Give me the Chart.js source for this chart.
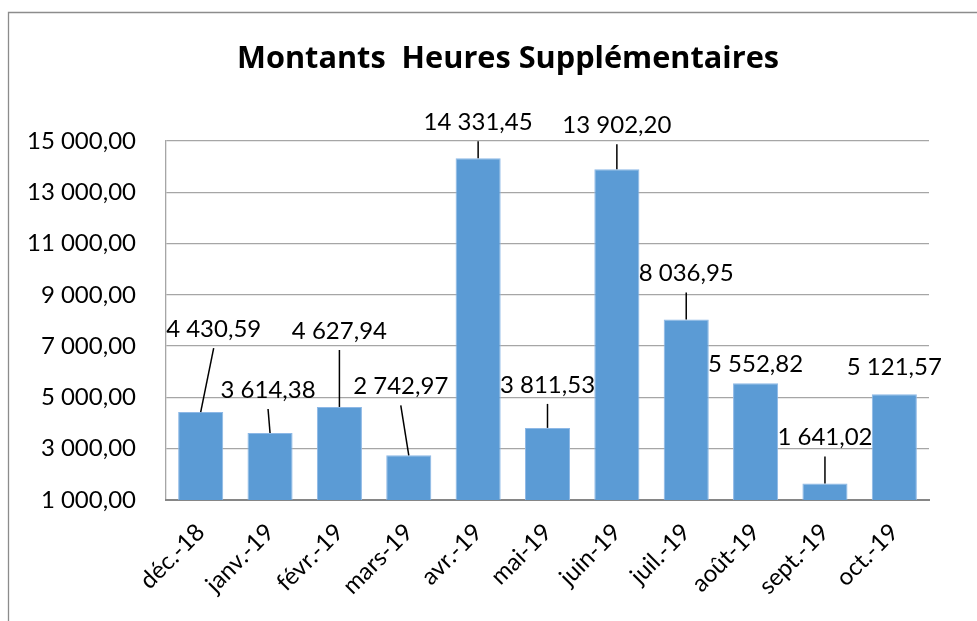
<!DOCTYPE html>
<html>
<head>
<meta charset="utf-8">
<script src="https://cdn.jsdelivr.net/npm/chart.js@4/dist/chart.umd.min.js"></script>
<style>
  body { margin: 0; background: #fff; }
</style>
</head>
<body>
<canvas id="otChart" width="977" height="621"></canvas>
<script>
let months = ['déc.-18', 'janv.-19', 'févr.-19', 'mars-19', 'avr.-19', 'mai-19', 'juin-19', 'juil.-19', 'août-19', 'sept.-19', 'oct.-19']
let amounts = [4430.59, 3614.38, 4627.94, 2742.97, 14331.45, 3811.53, 13902.20, 8036.95, 5552.82, 1641.02, 5121.57]
let yMin = 1000
let yMax = 15000
let yStep = 2000
let title = 'Montants  Heures Supplémentaires'

// where each value label sits, in px from the top of its bar
let labelShift = [[13, -83], [-2, -43], [0, -76], [-8, -69], [0, -36], [0, -43], [0, -44], [0, -46], [0, -19], [0, -46], [0, -27]]

function fmt(v) {
    let parts = v.toFixed(2).split('.')
    return parts[0].replace(/\B(?=(\d{3})+(?!\d))/g, ' ') + ',' + parts[1]
}

const frame = {
    id: 'frame',
    beforeDraw(chart) {
        const ctx = chart.ctx
        ctx.save()
        ctx.fillStyle = '#fff'
        ctx.fillRect(0, 0, chart.width, chart.height)
        ctx.strokeStyle = '#8c8c8c'
        ctx.lineWidth = 1.3
        ctx.beginPath()
        ctx.moveTo(8.5, chart.height)
        ctx.lineTo(8.5, 12.5)
        ctx.lineTo(chart.width, 12.5)
        ctx.stroke()

        // title, centred a bit right of the canvas middle like the original
        ctx.fillStyle = '#000'
        ctx.textAlign = 'center'
        ctx.textBaseline = 'middle'
        ctx.font = 'bold 29px "Open Sans"'
        let w = ctx.measureText(title).width
        ctx.font = 'bold ' + (29 * 542 / w).toFixed(1) + 'px "Open Sans"'
        ctx.fillText(title, 508, 59)
        ctx.restore()
    }
}

const valueLabels = {
    id: 'valueLabels',
    afterDatasetsDraw(chart) {
        const ctx = chart.ctx
        const meta = chart.getDatasetMeta(0)
        ctx.save()
        ctx.font = '24px Lato'
        ctx.fillStyle = '#000'
        ctx.textAlign = 'center'
        ctx.textBaseline = 'middle'
        meta.data.forEach((bar, i) => {
            let lx = bar.x + labelShift[i][0]
            let ly = bar.y + labelShift[i][1]
            if (labelShift[i][1] < -30) {
                ctx.strokeStyle = '#000'
                ctx.lineWidth = 1.5
                ctx.beginPath()
                ctx.moveTo(lx, ly + 19)
                ctx.lineTo(bar.x, bar.y)
                ctx.stroke()
            }
            ctx.fillText(fmt(amounts[i]), lx, ly)
        })
        ctx.restore()
    }
}

let ctx = document.getElementById('otChart').getContext('2d')
let otChart = new Chart(ctx, {
    type: 'bar',
    data: {
        labels: months,
        datasets: [{
            label: 'Montants',
            data: amounts,
            backgroundColor: '#5B9BD5',
            borderColor: '#8db8e6',
            borderWidth: 1,
            barPercentage: 0.65,
            categoryPercentage: 1
        }]
    },
    options: {
        responsive: false,
        animation: false,
        layout: {
            padding: { top: 141, left: 0, right: 48, bottom: 0 }
        },
        plugins: {
            legend: { display: false },
            tooltip: { enabled: false },
            title: { display: false }
        },
        scales: {
            y: {
                min: yMin,
                max: yMax,
                afterFit: function (scale) { scale.width = 166 },
                ticks: {
                    stepSize: yStep,
                    padding: 30,
                    color: '#000',
                    font: { family: 'Lato', size: 24 },
                    callback: function (v) { return fmt(v) }
                },
                grid: {
                    color: '#a6a6a6',
                    lineWidth: 1.3,
                    drawTicks: false
                },
                border: { display: true, color: '#a6a6a6', width: 1.3 }
            },
            x: {
                afterFit: function (scale) { scale.height = 121 },
                ticks: {
                    minRotation: 45,
                    maxRotation: 45,
                    autoSkip: false,
                    padding: 10,
                    color: '#000',
                    font: { family: 'Lato', size: 24 }
                },
                grid: { display: false },
                border: { display: true, color: '#868686', width: 2 }
            }
        }
    },
    plugins: [frame, valueLabels]
})
</script>
</body>
</html>
